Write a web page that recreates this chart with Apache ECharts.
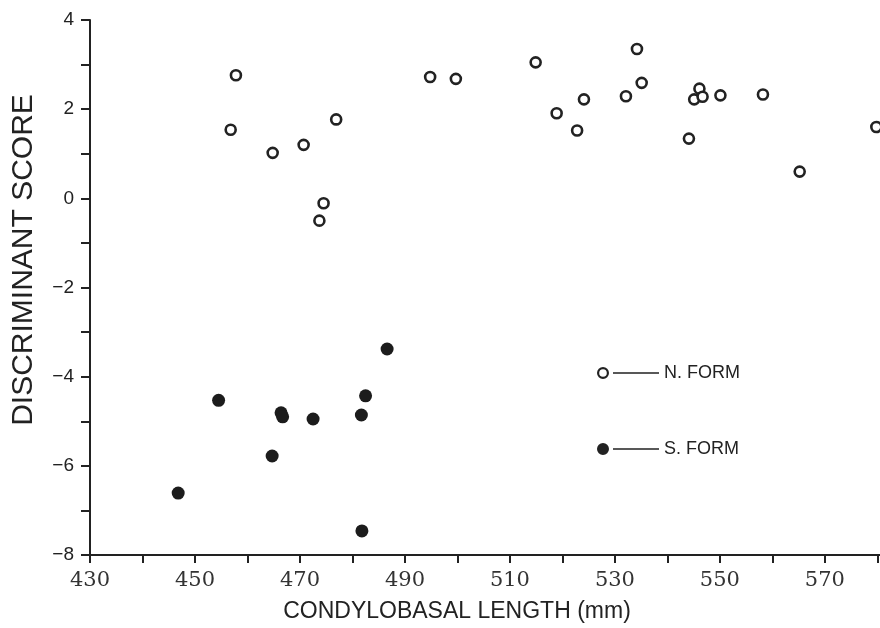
<!DOCTYPE html>
<html>
<head>
    <meta charset="UTF-8">
    <title>discriminant score</title>
    <script src="https://cdn.jsdelivr.net/npm/echarts@6/dist/echarts.min.js"></script>
    <style>
        html, body { margin: 0; padding: 0; background: #fff; }
    </style>
</head>
<body>
<div id="chart" style="width: 880px;height:628px;"></div>
<script>
    // N. FORM (open circles): [condylobasal length, discriminant score]
    var northForm = [
        [457.8, 2.76], [456.8, 1.54], [464.8, 1.02], [470.7, 1.20], [476.9, 1.77],
        [474.5, -0.11], [473.7, -0.50], [494.8, 2.72], [499.7, 2.68], [514.9, 3.05],
        [534.2, 3.35], [535.1, 2.59], [518.9, 1.91], [524.1, 2.22], [522.8, 1.52],
        [532.1, 2.29], [544.1, 1.34], [546.1, 2.46], [545.1, 2.22], [546.7, 2.28],
        [550.1, 2.31], [558.2, 2.33], [565.2, 0.60], [579.8, 1.60]
    ];
    // S. FORM (filled circles)
    var southForm = [
        [454.5, -4.53], [466.4, -4.81], [466.7, -4.90], [472.5, -4.95], [464.7, -5.78],
        [446.8, -6.61], [482.5, -4.43], [481.7, -4.86], [481.8, -7.46], [486.6, -3.38]
    ];
    var xTicks = [430, 440, 450, 460, 470, 480, 490, 500, 510, 520, 530, 540, 550, 560, 570, 580];
    var xLabels = [430, 450, 470, 490, 510, 530, 550, 570];
    var yLabels = [-8, -6, -4, -2, 0, 2, 4];

    var ink = '#222';
    // legend icons: circle + short line
    var openIcon = 'path://M0,6 A6,6 0 1,0 12,6 A6,6 0 1,0 0,6 Z M2.2,6 A3.8,3.8 0 1,1 9.8,6 A3.8,3.8 0 1,1 2.2,6 Z M16,5.3 L62,5.3 L62,6.7 L16,6.7 Z';
    var filledIcon = 'path://M0,6 A6,6 0 1,0 12,6 A6,6 0 1,0 0,6 Z M16,5.3 L62,5.3 L62,6.7 L16,6.7 Z';

    var chart = echarts.init(document.getElementById('chart'));
    chart.setOption({
        backgroundColor: '#fff',
        animation: false,
        grid: { left: 90, right: 0, top: 20, bottom: 69 },
        legend: {
            orient: 'vertical',
            left: 597,
            top: 363,
            padding: 0,
            itemGap: 56,
            itemWidth: 62,
            itemHeight: 12,
            selectedMode: false,
            textStyle: { fontFamily: 'Liberation Sans', fontSize: 18, color: ink, lineHeight: 20 },
            data: [
                { name: 'N. FORM', icon: openIcon, itemStyle: { color: ink, borderWidth: 0 } },
                { name: 'S. FORM', icon: filledIcon, itemStyle: { color: ink, borderWidth: 0 } }
            ]
        },
        xAxis: {
            type: 'value',
            min: 430,
            max: 580.5,
            name: 'CONDYLOBASAL LENGTH (mm)',
            nameLocation: 'middle',
            nameGap: 45,
            nameTextStyle: { fontFamily: 'Liberation Sans', fontSize: 23, color: ink, padding: [0, 56, 0, 0] },
            axisLine: { show: true, onZero: false, lineStyle: { color: ink, width: 2 } },
            axisTick: { show: true, length: 8, customValues: xTicks, lineStyle: { color: ink, width: 2 } },
            axisLabel: { customValues: xLabels, fontFamily: 'DejaVu Serif', fontSize: 21, color: '#333', margin: 15 },
            splitLine: { show: false }
        },
        yAxis: {
            type: 'value',
            min: -8,
            max: 4,
            interval: 1,
            name: 'DISCRIMINANT SCORE',
            nameLocation: 'middle',
            nameRotate: 90,
            nameGap: 51,
            nameTextStyle: { fontFamily: 'Liberation Sans', fontSize: 30, color: ink, padding: [0, 0, 0, 55] },
            axisLine: { show: true, onZero: false, lineStyle: { color: ink, width: 2 } },
            axisTick: { show: true, length: 9, lineStyle: { color: ink, width: 2 } },
            axisLabel: {
                customValues: yLabels,
                fontFamily: 'Liberation Sans',
                fontSize: 19,
                color: ink,
                margin: 16,
                formatter: function (v) { return v < 0 ? '\u2212' + (-v) : String(v); }
            },
            splitLine: { show: false }
        },
        series: [
            {
                name: 'N. FORM',
                type: 'scatter',
                symbol: 'circle',
                symbolSize: 10,
                clip: false,
                itemStyle: { color: '#fff', borderColor: ink, borderWidth: 2.6, opacity: 1 },
                data: northForm
            },
            {
                name: 'S. FORM',
                type: 'scatter',
                symbol: 'circle',
                symbolSize: 13,
                itemStyle: { color: '#1c1c1c', opacity: 1 },
                data: southForm
            }
        ]
    });
</script>
</body>
</html>
